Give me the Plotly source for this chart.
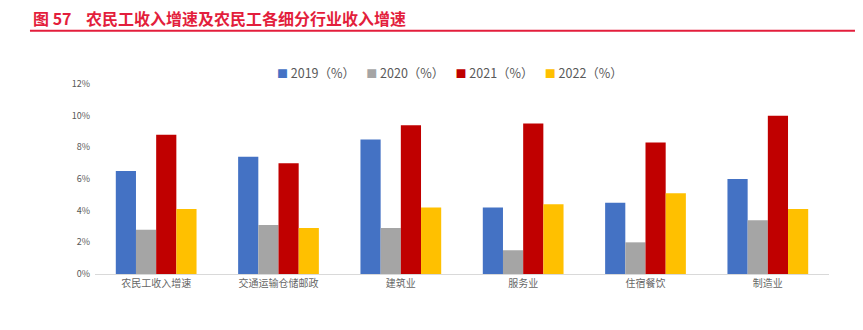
import plotly.graph_objects as go

categories = ["农民工收入增速", "交通运输仓储邮政", "建筑业", "服务业", "住宿餐饮", "制造业"]
series_names = ["2019（%）", "2020（%）", "2021（%）", "2022（%）"]
v2019 = [6.5, 7.4, 8.5, 4.2, 4.5, 6.0]
v2020 = [2.8, 3.1, 2.9, 1.5, 2.0, 3.4]
v2021 = [8.8, 7.0, 9.4, 9.5, 8.3, 10.0]
v2022 = [4.1, 2.9, 4.2, 4.4, 5.1, 4.1]
colors = ["#4472C4", "#A5A5A5", "#C00000", "#FFC000"]
tick_vals = [0, 2, 4, 6, 8, 10, 12]
tick_text = ["0%", "2%", "4%", "6%", "8%", "10%", "12%"]

fig = go.Figure()
for name, vals, c in zip(series_names, [v2019, v2020, v2021, v2022], colors):
    fig.add_trace(go.Bar(x=categories, y=vals, name=name, marker=dict(color=c, line=dict(width=0))))

fig.update_layout(
    width=863, height=330,
    margin=dict(l=95, r=34, t=84, b=56),
    plot_bgcolor="white", paper_bgcolor="white",
    barmode="group", bargap=0.34, bargroupgap=0,
    font=dict(family="Noto Sans CJK SC", color="#595959"),
    xaxis=dict(showline=True, linecolor="#D9D9D9", linewidth=1, ticks="",
               tickfont=dict(size=10, color="#666666", family="Noto Sans CJK SC"), showgrid=False),
    yaxis=dict(range=[0, 12], tickvals=tick_vals, ticktext=tick_text, showgrid=False,
               zeroline=False, showline=False, tickfont=dict(size=9, color="#595959"), ticklabelstandoff=4),
    showlegend=False,
)

# legend as a single text line (compact spacing like the original)
legend_parts = []
for name, c in zip(series_names, colors):
    legend_parts.append(f'<span style="color:{c};font-size:11px">■</span> {name}')
legend_text = "\u00a0\u00a0\u00a0\u00a0".join(legend_parts)
fig.add_annotation(text=legend_text, xref="paper", yref="paper", x=0.484, y=1.063,
                   xanchor="center", yanchor="middle", showarrow=False,
                   font=dict(size=12.5, color="#595959", family="Noto Sans CJK SC"))

fig.add_annotation(text="<b>图 57    农民工收入增速及农民工各细分行业收入增速</b>", xref="paper", yref="paper",
                   x=-0.0872, y=1.348, xanchor="left", yanchor="middle", showarrow=False,
                   font=dict(size=16, color="#E31E3C", family="Noto Sans CJK SC"))
fig.add_shape(type="line", xref="paper", yref="paper", x0=-0.0886, x1=1.0354, y0=1.2797, y1=1.2797,
              line=dict(color="#E31E3C", width=2))
fig.write_html("out.html")
